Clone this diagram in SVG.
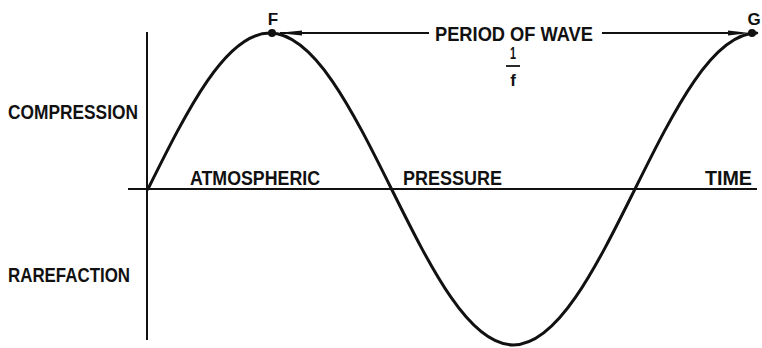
<svg xmlns="http://www.w3.org/2000/svg" width="762" height="348" viewBox="0 0 762 348">
<style>
.t{font-family:"Liberation Sans",Arial,sans-serif;font-weight:bold;font-size:21px;fill:#111}
.s{font-size:17px}
.ax{stroke:#111;stroke-width:2;fill:none}
.wave{stroke:#111;stroke-width:3;fill:none;stroke-linecap:round}
.dim{stroke:#111;stroke-width:1.8;fill:none}
</style>
<rect width="762" height="348" fill="#fff"/>
<g id="axes">
<line class="ax" x1="147" y1="32" x2="147" y2="340"/>
<line class="ax" x1="128" y1="189" x2="757" y2="189"/>
</g>
<g id="wave">
<path class="wave" d="M148,189 C187.71,109.08 225.69,33 269.75,33 C313.81,33 351.79,109.08 391.5,189 C431.21,268.92 469.19,345 513.25,345 C557.31,345 595.29,268.92 635,189 C674.71,109.08 712.69,33 756.75,33"/>
</g>
<g id="connectors">
<line class="dim" x1="280" y1="33" x2="429" y2="33"/>
<line class="dim" x1="602" y1="33" x2="740" y2="33"/>
<polygon points="277,33 302,30.5 302,35.5" fill="#111"/>
<polygon points="750,33 728,30.5 728,35.5" fill="#111"/>
</g>
<g id="F">
<circle cx="272" cy="33" r="4" fill="#111"/>
<text class="t s" x="273" y="25" text-anchor="middle">F</text>
</g>
<g id="G">
<circle cx="752" cy="33" r="4" fill="#111"/>
<text class="t s" x="754" y="25" text-anchor="middle">G</text>
</g>
<g id="period">
<text class="t" x="435" y="41" textLength="158" lengthAdjust="spacingAndGlyphs">PERIOD OF WAVE</text>
<text class="t s" x="513" y="59" text-anchor="middle" textLength="6" lengthAdjust="spacingAndGlyphs">1</text>
<line class="dim" x1="506" y1="66" x2="520" y2="66" stroke-width="1.5"/>
<text class="t s" x="513" y="86" text-anchor="middle">f</text>
</g>
<g id="labels">
<text class="t" x="8" y="119" textLength="130" lengthAdjust="spacingAndGlyphs">COMPRESSION</text>
<text class="t" x="8" y="282" textLength="122" lengthAdjust="spacingAndGlyphs">RAREFACTION</text>
<text class="t" x="190" y="185" textLength="130" lengthAdjust="spacingAndGlyphs">ATMOSPHERIC</text>
<text class="t" x="403" y="185" textLength="99" lengthAdjust="spacingAndGlyphs">PRESSURE</text>
<text class="t" x="705" y="185" textLength="47" lengthAdjust="spacingAndGlyphs">TIME</text>
</g>
</svg>
